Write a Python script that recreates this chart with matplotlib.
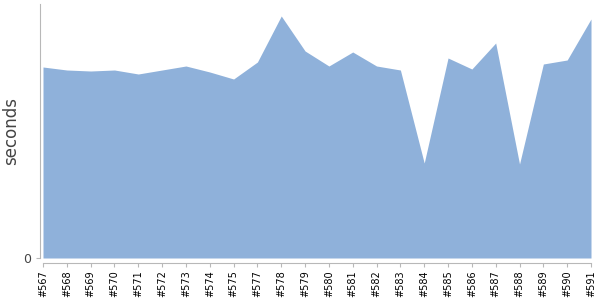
import numpy as np
import matplotlib
matplotlib.use("Agg")
import matplotlib.pyplot as plt

builds = ["#567", "#568", "#569", "#570", "#571", "#572", "#573", "#574",
          "#575", "#577", "#578", "#579", "#580", "#581", "#582", "#583",
          "#584", "#585", "#586", "#587", "#588", "#589", "#590", "#591"]
seconds = [191, 188, 187, 188, 184, 188, 192, 186,
           179, 196, 242, 207, 192, 206, 192, 188,
           95, 200, 189, 215, 94, 194, 198, 239]
y_max = 254

fill_color = "#8fb1da"
axis_color = "#b8b8b8"

fig = plt.figure(figsize=(6, 3), dpi=100)
ax = fig.add_axes([43 / 600, 42 / 300, 548 / 600, 254 / 300])

x = np.arange(len(builds))
ax.fill_between(x, 0, seconds, color=fill_color, linewidth=0)

ax.set_xlim(0, len(builds) - 1)
ax.set_ylim(0, y_max)

ax.set_xticks(x)
ax.set_xticklabels(builds)
ax.set_yticks([0])
ax.set_yticklabels(["0"])

for side in ["top", "right"]:
    ax.spines[side].set_visible(False)
ax.spines["left"].set_position(("outward", 2.2))
ax.spines["bottom"].set_position(("outward", 3.6))
ax.spines["left"].set_color(axis_color)
ax.spines["bottom"].set_color(axis_color)
ax.tick_params(axis="both", colors=axis_color, length=3, width=0.8)
ax.tick_params(axis="x", labelcolor="black", labelsize=7, labelrotation=90, pad=2)
ax.tick_params(axis="y", labelcolor="#444444", labelsize=9, pad=3)

ax.set_ylabel("seconds", fontsize=12, color="#444444")
ax.yaxis.set_label_coords(-0.042, 0.5)

fig.savefig("out.png", dpi=100)
